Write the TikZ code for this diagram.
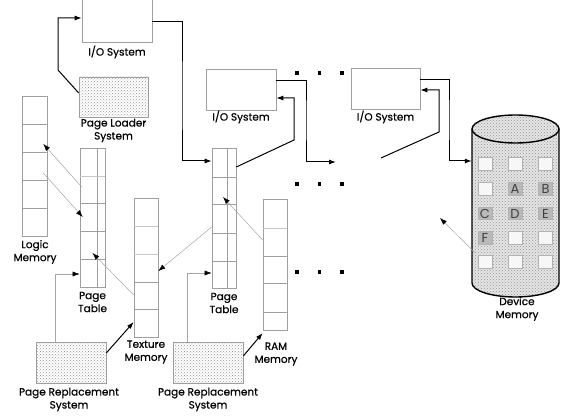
\documentclass[tikz,border=0pt]{standalone}
\usepackage{fontspec}
\setmainfont{Poppins}
\newfontfamily\lblfont{Poppins}[FakeBold=0.6]
\usetikzlibrary{arrows.meta,calc,patterns}
\begin{document}
\begin{tikzpicture}[x=1pt,y=-1pt,
  boxline/.style={draw=gray!75,line width=0.6pt},
  iobox/.style={boxline,inner sep=0,minimum width=70pt,minimum height=41pt},
  hatchbox/.style={iobox,fill=gray!15,pattern=crosshatch dots,pattern color=gray!80},
  colbox/.style={boxline,inner sep=0,minimum width=25pt,minimum height=139pt},
  cellsep/.style={draw=gray!75,line width=0.6pt},
  cellsepl/.style={draw=gray!45,line width=0.6pt},
  lbl/.style={font=\lblfont\fontsize{10.5}{13}\selectfont,align=center,inner sep=0},
  conn/.style={line width=1pt,-{Latex[length=7pt,width=5pt]}},
  thinconn/.style={draw=gray!70,line width=0.5pt,-{Latex[length=7pt,width=5pt,color=black]}},
  cylfill/.style={fill=gray!20},
  cylpat/.style={pattern=crosshatch dots,pattern color=gray!85},
  cyl/.style={draw=black,line width=1.4pt},
  cellw/.style={draw=gray!60,line width=0.5pt,fill=gray!6,inner sep=0,minimum width=14pt,minimum height=12.5pt},
  cellg/.style={cellw,fill=gray!55,text=black!75,font=\fontsize{13}{13}\selectfont},
  dotsq/.style={fill=black,inner sep=0,minimum size=3.2pt}
]
\useasboundingbox (0,0) rectangle (567,419);

% ---------- I/O systems and page loader
\node[iobox,minimum height=43pt] (io1) at (117,20.5) {};
\node[lbl] (io1l) at (117,52) {I/O System};
\node[hatchbox,minimum width=69pt,minimum height=40pt] (pl) at (113.5,97) {};
\node[lbl] (pll) at (113.5,130.5) {Page Loader\\System};
\node[iobox] (io2) at (241,89.5) {};
\node[lbl] (io2l) at (241,117) {I/O System};
\node[iobox,minimum width=69pt] (io3) at (385.5,88.5) {};
\node[lbl] (io3l) at (385.5,117) {I/O System};

% ---------- Logic memory
\node[colbox,minimum height=140pt] (lm) at (34.5,166) {};
\foreach \yy in {124,152,180,208} \draw[cellsep] (22,\yy) -- (47,\yy);
\node[lbl] (lml) at (35,252) {Logic\\Memory};

% ---------- Page table 1
\node[colbox] (pt1) at (92.5,217.5) {};
\draw[cellsep] (97,148) -- (97,287);
\draw[cellsepl] (80,176) -- (105,176);
\foreach \yy in {203,231,259} \draw[cellsep] (80,\yy) -- (105,\yy);
\node[lbl] (pt1l) at (92.5,302) {Page\\Table};

% ---------- Texture memory
\node[colbox,minimum width=24pt] (tm) at (146,267.5) {};
\foreach \yy in {226,254} \draw[cellsepl] (134,\yy) -- (158,\yy);
\foreach \yy in {282,309} \draw[cellsep] (134,\yy) -- (158,\yy);
\node[lbl] (tml) at (146,352) {Texture\\Memory};

% ---------- Page table 2
\node[colbox,minimum width=24pt,minimum height=140pt] (pt2) at (224,218) {};
\draw[cellsep] (227,148) -- (227,288);
\foreach \yy in {177,204,233,261} \draw[cellsep] (212,\yy) -- (236,\yy);
\node[lbl] (pt2l) at (224,303) {Page\\Table};

% ---------- RAM memory
\node[colbox,minimum width=24pt,minimum height=131pt] (ram) at (275,264.5) {};
\draw[cellsepl] (263,228) -- (287,228);
\foreach \yy in {256,283,312} \draw[cellsep] (263,\yy) -- (287,\yy);
\node[lbl] (raml) at (276,354) {RAM\\Memory};

% ---------- Page replacement systems
\node[hatchbox] (pr1) at (71,362.5) {};
\node[lbl] (pr1l) at (69,399.5) {Page Replacement\\System};
\node[hatchbox] (pr2) at (208,362.5) {};
\node[lbl] (pr2l) at (208,399.5) {Page Replacement\\System};

% ---------- Device memory cylinder
\node[inner sep=0,minimum width=87pt,minimum height=182pt] (dm) at (515.5,206) {};
\path[cylfill] (472,129) -- (472,283) arc[start angle=180,end angle=360,x radius=43.5pt,y radius=14pt] -- (559,129) -- cycle;
\path[cylpat] (472,129) -- (472,283) arc[start angle=180,end angle=360,x radius=43.5pt,y radius=14pt] -- (559,129) -- cycle;
\draw[cyl] (472,129) -- (472,283) arc[start angle=180,end angle=360,x radius=43.5pt,y radius=14pt] -- (559,129);
\fill[cylfill] (515.5,129) ellipse[x radius=43.5pt,y radius=14pt];
\path[cylpat] (515.5,129) ellipse[x radius=43.5pt,y radius=14pt];
\draw[cyl] (515.5,129) ellipse[x radius=43.5pt,y radius=14pt];
\node[lbl] (dml) at (517,309) {Device\\Memory};

% cells
\node[cellw] (c11) at (485,164) {};
\node[cellw] (c12) at (515,164) {};
\node[cellw] (c13) at (545.5,164) {};
\node[cellw] (c21) at (485,189) {};
\node[cellg] (c22) at (515,189) {A};
\node[cellg] (c23) at (545.5,189) {B};
\node[cellg] (c31) at (485,213.5) {C};
\node[cellg] (c32) at (515,213.5) {D};
\node[cellg] (c33) at (545.5,213.5) {E};
\node[cellg] (c41) at (485,238) {F};
\node[cellw] (c42) at (515,238) {};
\node[cellw] (c43) at (545.5,238) {};
\node[cellw] (c51) at (485,262) {};
\node[cellw] (c52) at (515,262) {};
\node[cellw] (c53) at (545.5,262) {};

% ---------- dots
\foreach \yy/\r in {73/a,184/b,272/c}
  \foreach \xx/\k in {297/1,319.5/2,342/3}
    \node[dotsq] (dot\r\k) at (\xx,\yy) {};

% ---------- bend coordinates
\coordinate (k1) at (58,70);
\coordinate (k2) at (182,100);
\coordinate (k3) at (294,140);
\coordinate (k4) at (306,120);
\coordinate (e4) at (336,162);
\coordinate (s5) at (381,158);
\coordinate (k5) at (439,132);
\coordinate (k6) at (449,120);
\coordinate (e16) at (440,218);

% ---------- thick connectors
\draw[conn] ([yshift=4pt]pl.west) -- (k1) |- ([yshift=2.5pt]io1.west);
\draw[conn] ([yshift=-1.5pt]io1.east) -| (k2) |- ([yshift=57pt]pt2.west);
\draw[conn] ([yshift=51pt]pt2.east) -- (k3) |- ([yshift=-8.5pt]io2.east);
\draw[conn] ([yshift=8.5pt]io2.east) -| (k4) |- (e4);
\draw[conn] (s5) -- (k5) |- ([yshift=-1.5pt]io3.east);
\draw[conn] ([yshift=8.5pt]io3.east) -| (k6) |- ([yshift=45pt]dm.west);
\draw[conn] ([yshift=9.5pt]pr1.east) -- ([yshift=-54.5pt]tm.west);
\draw[conn] ([yshift=6.5pt]pr2.east) -- ([yshift=-68.5pt]ram.west);

% ---------- thin connectors
\draw[thinconn] ([xshift=2pt,yshift=30.5pt]pt1.west) -- ([xshift=-4pt,yshift=22pt]lm.east);
\draw[thinconn] ([xshift=-4pt,yshift=-7pt]lm.east) -- ([xshift=3pt,yshift=0.5pt]pt1.west);
\draw[thinconn] ([yshift=-27.5pt]tm.west) -- ([yshift=-35.5pt]pt1.center);
\draw[thinconn] ([xshift=-16pt]pr1.north) |- ([yshift=-56.5pt]pt1.west);
\draw[thinconn] ([yshift=-9pt]pt2.west) -- ([yshift=-3.5pt]tm.east);
\draw[thinconn] ([yshift=24.5pt]ram.west) -- ([xshift=-1pt,yshift=21pt]pt2.center);
\draw[thinconn] ([xshift=-21pt]pr2.north) |- ([yshift=-55pt]pt2.west);
\draw[thinconn] ([xshift=-3pt,yshift=3pt]c51.north west) -- (e16);
\end{tikzpicture}
\end{document}
